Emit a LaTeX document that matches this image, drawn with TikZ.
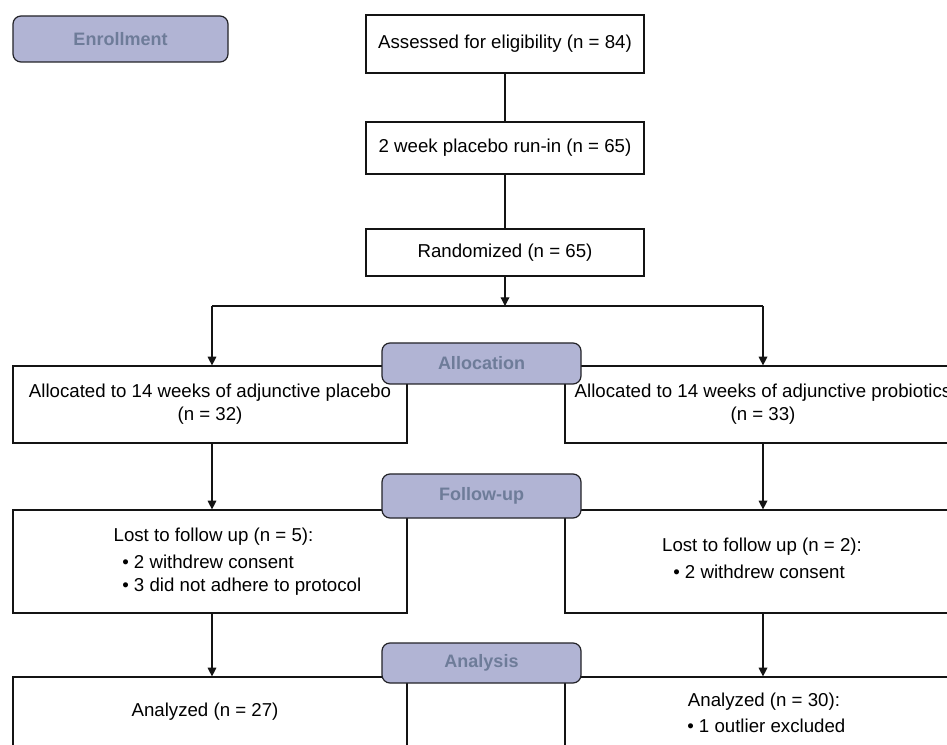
\documentclass[tikz,border=0pt]{standalone}
\usepackage{fontspec}
\setmainfont{Liberation Sans}
\usetikzlibrary{arrows.meta}
\definecolor{hdrfill}{RGB}{177,180,212}
\definecolor{hdrtext}{RGB}{110,124,153}
\definecolor{hdrline}{RGB}{35,35,40}
\definecolor{boxline}{RGB}{20,20,20}
\begin{document}
\begin{tikzpicture}[x=0.75pt,y=-0.75pt,
  box/.style={draw=boxline, line width=0.9pt, fill=white, inner sep=0pt,
    align=center, font=\fontsize{14}{17}\selectfont},
  hdr/.style={draw=hdrline, line width=0.9pt, fill=hdrfill, rounded corners=6pt,
    inner sep=0pt, text=hdrtext, font=\fontsize{13.5}{16}\selectfont\bfseries},
  txt/.style={inner sep=0pt, font=\fontsize{14}{17}\selectfont},
  conn/.style={draw=boxline, line width=0.9pt},
  arr/.style={conn, -{Triangle[length=6.5pt,width=6.5pt]}}]
\useasboundingbox (0,0) rectangle (947,745);
\clip (0,0) rectangle (947,745);
\fill[white] (0,0) rectangle (947,745);

% top chain
\node[box, minimum width=208.5pt, minimum height=43.5pt] (assess) at (505,44) {Assessed for eligibility (n = 84)};
\node[box, minimum width=208.5pt, minimum height=39pt] (twowk) at (505,148) {2 week placebo run-in (n = 65)};
\node[box, minimum width=208.5pt, minimum height=35.25pt] (rand) at (505,252.5) {Randomized (n = 65)};

% allocation boxes
\node[box, minimum width=295.5pt, minimum height=57.75pt] (pla) at (210,404.5) {Allocated to 14 weeks of adjunctive placebo\\(n = 32)};
\node[box, minimum width=297pt, minimum height=57.75pt] (pro) at (763,404.5) {Allocated to 14 weeks of adjunctive probiotics\\(n = 33)};

% follow-up boxes
\node[box, minimum width=295.5pt, minimum height=77.25pt] (lost1) at (210,561.5) {};
\node[box, minimum width=297pt, minimum height=77.25pt] (lost2) at (763,561.5) {};
\node[txt] (l1a) at (213.5,537) {Lost to follow up (n = 5):};
\node[txt, anchor=west] (l1b) at (122,562) {• 2 withdrew consent};
\node[txt, anchor=west] (l1c) at (122,587) {• 3 did not adhere to protocol};
\node[txt] (l2a) at (762,547) {Lost to follow up (n = 2):};
\node[txt, anchor=west] (l2b) at (673,572) {• 2 withdrew consent};

% analysis boxes
\node[box, minimum width=295.5pt, minimum height=103.5pt] (ana1) at (210,746) {};
\node[box, minimum width=297pt, minimum height=103.5pt] (ana2) at (763,746) {};
\node[txt] (a1) at (205,712) {Analyzed (n = 27)};
\node[txt] (a2a) at (764,702) {Analyzed (n = 30):};
\node[txt, anchor=west] (a2b) at (687,726) {• 1 outlier excluded};

% connectors
\coordinate (split) at (505,306);
\coordinate (hl) at (212,306);
\coordinate (hr) at (763,306);
\draw[conn] (assess) -- (twowk);
\draw[conn] (twowk) -- (rand);
\draw[arr] (rand) -- (split);
\draw[conn] (hl) -- (hr);
\draw[arr] (hl) -- (hl |- pla.north);
\draw[arr] (hr) -- (hr |- pro.north);
\draw[arr] (pla.south -| hl) -- (lost1.north -| hl);
\draw[arr] (pro.south -| hr) -- (lost2.north -| hr);
\draw[arr] (lost1.south -| hl) -- (ana1.north -| hl);
\draw[arr] (lost2.south -| hr) -- (ana2.north -| hr);

% stage headers
\node[hdr, minimum width=161.25pt, minimum height=34.5pt] (enr) at (120.5,39) {Enrollment};
\node[hdr, minimum width=149.25pt, minimum height=30.75pt] (alloc) at (481.5,363.5) {Allocation};
\node[hdr, minimum width=149.25pt, minimum height=33pt] (follow) at (481.5,496) {Follow-up};
\node[hdr, minimum width=149.25pt, minimum height=30pt] (analysis) at (481.5,663) {Analysis};
\end{tikzpicture}
\end{document}
